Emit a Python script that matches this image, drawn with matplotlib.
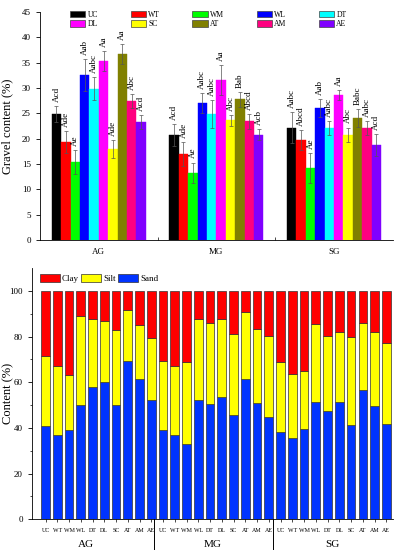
import numpy as np
import matplotlib
matplotlib.use("Agg")
import matplotlib.pyplot as plt
from matplotlib.patches import Patch
import matplotlib.transforms as mtransforms

plt.rcParams['font.family'] = ['Liberation Serif', 'DejaVu Serif']

# ---- data: gravel content (top panel) ----
groups = ["AG", "MG", "SG"]
treatments = ["UC", "WT", "WM", "WL", "DT", "DL", "SC", "AT", "AM", "AE"]
colors = ["#000000", "#ff0000", "#00ff00", "#0000ff", "#00ffff",
          "#ff00ff", "#ffff00", "#808000", "#ff0080", "#8000ff"]

gravel_AG = [24.8, 19.4, 15.4, 32.6, 29.9, 35.3, 18.0, 36.7, 27.4, 23.3]
gravel_MG = [20.7, 17.0, 13.3, 27.0, 24.9, 31.6, 23.6, 27.8, 23.4, 20.8]
gravel_SG = [22.2, 19.7, 14.2, 26.0, 22.1, 28.6, 20.8, 24.1, 22.1, 18.7]
err_AG = [1.6, 2.2, 2.3, 3.1, 2.3, 2.0, 1.8, 2.0, 1.4, 1.3]
err_MG = [2.2, 2.3, 2.0, 2.0, 2.8, 2.9, 1.0, 1.5, 1.5, 1.1]
err_SG = [3.0, 2.0, 2.9, 1.8, 1.4, 1.0, 1.4, 1.7, 1.4, 2.2]
letters_AG = ["Acd", "Ade", "Ae", "Aab", "Aabc", "Aa", "Ade", "Aa", "Abc", "Acd"]
letters_MG = ["Acd", "Ade", "Ae", "Aabc", "Aabc", "Aa", "Abc", "Bab", "Abcd", "Acb"]
letters_SG = ["Aabc", "Abcd", "Ae", "Aab", "Aabc", "Aa", "Abc", "Babc", "Aabc", "Acd"]

# ---- data: particle composition (bottom panel), cumulative tops ----
sand = [40.9, 36.8, 39.0, 50.2, 58.0, 59.9, 50.2, 69.3, 61.5, 52.4,
        39.0, 36.8, 32.8, 52.3, 50.5, 53.4, 45.8, 61.5, 50.8, 44.8,
        38.0, 35.6, 39.7, 51.5, 47.3, 51.5, 41.3, 56.4, 49.8, 41.6]
sand_silt = [71.5, 66.9, 63.2, 88.8, 87.6, 86.7, 82.9, 91.7, 85.0, 79.4,
             69.3, 66.9, 68.8, 87.6, 85.8, 87.9, 80.9, 90.9, 83.5, 80.4,
             68.8, 63.4, 65.0, 85.3, 80.4, 81.9, 79.6, 86.0, 82.0, 77.1]

fig = plt.figure(figsize=(3.98, 5.5), dpi=100)

# ================= top panel =================
ax1 = fig.add_axes([0.1005, 0.5636, 0.8865, 0.4145])
width = 0.08
vals = [gravel_AG, gravel_MG, gravel_SG]
errs = [err_AG, err_MG, err_SG]
lets = [letters_AG, letters_MG, letters_SG]
xg = np.arange(1, 4)
for i, t in enumerate(treatments):
    x = xg + (i - 4.5) * width
    h = [v[i] for v in vals]
    e = [v[i] for v in errs]
    ax1.bar(x, h, width, color=colors[i], edgecolor=colors[i], linewidth=0.3, label=t)
    ax1.errorbar(x, h, yerr=e, fmt='none', ecolor='#555555', elinewidth=0.5,
                 capsize=1.5, capthick=0.5)
    for k in range(3):
        ax1.text(x[k], h[k] + e[k] + 0.8, lets[k][i], rotation=90,
                 ha='center', va='bottom', fontsize=6.5)

ax1.set_xlim(0.5, 3.5)
ax1.set_ylim(0, 45)
ax1.set_yticks(np.arange(0, 46, 5))
ax1.set_xticks(xg)
ax1.set_xticklabels(groups, fontsize=6.5)
ax1.set_xticks([1.5, 2.5], minor=True)
ax1.tick_params(axis='x', which='major', length=0, pad=6)
ax1.tick_params(axis='x', which='minor', direction='in', length=2.5, width=0.5)
ax1.tick_params(axis='y', labelsize=6.5, length=3, width=0.6)
ax1.spines['top'].set_visible(False)
ax1.spines['right'].set_visible(False)
for s in ['left', 'bottom']:
    ax1.spines[s].set_linewidth(0.6)
ax1.set_ylabel("Gravel content (%)", fontsize=9)
ax1.yaxis.set_label_coords(-0.076, 0.5)

order = [0, 5, 1, 6, 2, 7, 3, 8, 4, 9]
handles = [Patch(facecolor=colors[j], edgecolor='#444444', linewidth=0.5) for j in order]
ax1.legend(handles, [treatments[j] for j in order], ncol=5, loc='upper left',
           bbox_to_anchor=(0.066, 1.035), frameon=False, fontsize=5.5,
           handlelength=2.0, handleheight=0.9, handletextpad=0.3,
           columnspacing=4.25, labelspacing=0.15)

# ================= bottom panel =================
ax2 = fig.add_axes([0.0804, 0.0558, 0.9066, 0.4569])
xb = np.arange(len(sand))
silt = np.array(sand_silt) - np.array(sand)
clay = 100 - np.array(sand_silt)
bw = 0.74
ax2.bar(xb, sand, bw, color='#0033ff', edgecolor='#333333', linewidth=0.5, label='Sand')
ax2.bar(xb, silt, bw, bottom=sand, color='#ffff00', edgecolor='#333333', linewidth=0.5, label='Silt')
ax2.bar(xb, clay, bw, bottom=sand_silt, color='#ff0000', edgecolor='#333333', linewidth=0.5, label='Clay')

ax2.set_xlim(-1.15, 29.55)
ax2.set_ylim(0, 110)
ax2.set_yticks(np.arange(0, 101, 20))
ax2.set_yticks(np.arange(10, 100, 20), minor=True)
ax2.set_xticks(xb)
ax2.set_xticklabels(treatments * 3, fontsize=4.3)
ax2.tick_params(axis='x', length=2, width=0.5, pad=4)
ax2.tick_params(axis='y', labelsize=6.5, length=3, width=0.6)
ax2.tick_params(axis='y', which='minor', length=1.8, width=0.5)
ax2.spines['top'].set_visible(False)
ax2.spines['right'].set_visible(False)
for s in ['left', 'bottom']:
    ax2.spines[s].set_linewidth(0.6)
ax2.set_ylabel("Content (%)", fontsize=9)
ax2.yaxis.set_label_coords(-0.05, 0.5)

trans = mtransforms.blended_transform_factory(ax2.transData, ax2.transAxes)
for xs in [9.25, 19.35]:
    ax2.plot([xs, xs], [0, -0.125], color='black', linewidth=0.7,
             transform=trans, clip_on=False)
for xs, g in zip([3.4, 14.2, 24.4], groups):
    ax2.text(xs, -0.1, g, transform=trans, ha='center', va='center', fontsize=8)

hh, ll = ax2.get_legend_handles_labels()
ax2.legend(hh[::-1], ll[::-1], ncol=3, loc='upper left', bbox_to_anchor=(0.0, 1.01),
           frameon=False, fontsize=6.5, handlelength=2.2, handleheight=1.0,
           handletextpad=0.2, columnspacing=0.3)

fig.savefig("out.png", dpi=100)
